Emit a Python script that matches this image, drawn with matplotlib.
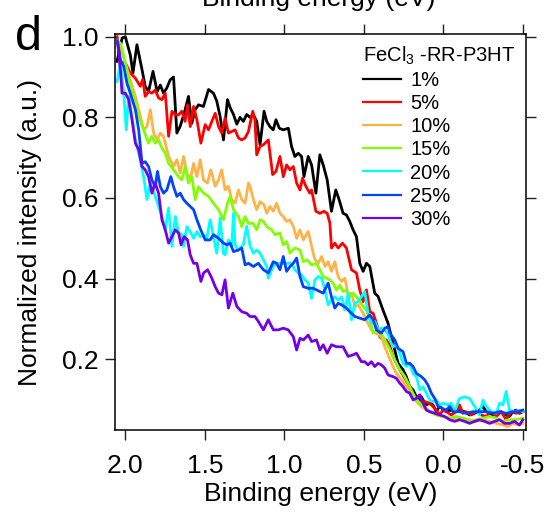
import numpy as np
import matplotlib
matplotlib.use("Agg")
import matplotlib.pyplot as plt
from matplotlib.ticker import FixedLocator

plt.rcParams['font.family'] = ['Liberation Sans', 'DejaVu Sans']
plt.rcParams['mathtext.fontset'] = 'custom'
plt.rcParams['mathtext.rm'] = 'Liberation Sans'
plt.rcParams['mathtext.it'] = 'Liberation Sans:italic'

# valence band spectra, (binding energy eV, normalized intensity)
p1 = [(2.052, 0.939), (2.02, 0.997), (2.0, 1.0), (1.969, 0.955), (1.952, 0.91), (1.927, 0.98),
      (1.895, 0.918), (1.875, 0.877), (1.854, 0.864), (1.826, 0.914), (1.80, 0.864), (1.78, 0.88),
      (1.76, 0.86), (1.739, 0.873), (1.718, 0.893), (1.697, 0.90), (1.676, 0.761), (1.655, 0.778),
      (1.63, 0.81), (1.603, 0.852), (1.582, 0.785), (1.561, 0.819), (1.54, 0.831), (1.509, 0.827),
      (1.477, 0.869), (1.446, 0.86), (1.425, 0.84), (1.404, 0.802), (1.383, 0.744), (1.358, 0.844),
      (1.341, 0.824), (1.32, 0.807), (1.299, 0.783), (1.279, 0.80), (1.258, 0.79), (1.237, 0.807),
      (1.216, 0.80), (1.195, 0.806), (1.174, 0.79), (1.153, 0.732), (1.128, 0.815), (1.111, 0.79),
      (1.091, 0.777), (1.07, 0.769), (1.053, 0.794), (1.032, 0.773), (1.007, 0.769), (0.975, 0.773),
      (0.955, 0.728), (0.934, 0.703), (0.913, 0.711), (0.892, 0.703), (0.877, 0.653), (0.85, 0.703),
      (0.829, 0.682), (0.802, 0.612), (0.777, 0.707), (0.756, 0.682), (0.731, 0.645), (0.704, 0.567),
      (0.677, 0.62), (0.656, 0.596), (0.631, 0.562), (0.61, 0.558), (0.589, 0.542), (0.568, 0.521),
      (0.547, 0.504), (0.526, 0.438), (0.505, 0.418), (0.484, 0.438), (0.463, 0.43), (0.432, 0.364),
      (0.411, 0.356), (0.38, 0.322), (0.348, 0.289), (0.317, 0.24), (0.285, 0.19), (0.254, 0.174),
      (0.233, 0.157), (0.212, 0.132), (0.191, 0.124), (0.17, 0.107), (0.154, 0.095), (0.139, 0.107),
      (0.128, 0.099), (0.107, 0.087), (0.087, 0.091), (0.066, 0.087), (0.045, 0.07), (0.024, 0.083),
      (0.003, 0.076), (-0.018, 0.07), (-0.039, 0.074), (-0.07, 0.07), (-0.101, 0.074), (-0.133, 0.07),
      (-0.164, 0.062), (-0.196, 0.066), (-0.227, 0.074), (-0.248, 0.083), (-0.269, 0.07), (-0.29, 0.066),
      (-0.311, 0.062), (-0.332, 0.066), (-0.363, 0.07), (-0.394, 0.062), (-0.415, 0.058), (-0.436, 0.07),
      (-0.457, 0.074), (-0.478, 0.066), (-0.499, 0.07)]

p5 = [(2.052, 1.0), (2.031, 0.935), (2.0, 0.935), (1.969, 0.91), (1.937, 0.897), (1.906, 0.877),
      (1.891, 0.894), (1.875, 0.852), (1.854, 0.864), (1.833, 0.86), (1.812, 0.868), (1.791, 0.848),
      (1.77, 0.844), (1.749, 0.86), (1.728, 0.753), (1.707, 0.815), (1.686, 0.806), (1.666, 0.806),
      (1.645, 0.815), (1.624, 0.79), (1.609, 0.831), (1.592, 0.777), (1.571, 0.827), (1.55, 0.794),
      (1.525, 0.736), (1.498, 0.782), (1.477, 0.769), (1.456, 0.79), (1.435, 0.81), (1.414, 0.777),
      (1.394, 0.761), (1.373, 0.798), (1.352, 0.761), (1.331, 0.765), (1.31, 0.769), (1.289, 0.749),
      (1.268, 0.744), (1.247, 0.749), (1.226, 0.765), (1.199, 0.815), (1.185, 0.794), (1.174, 0.707),
      (1.153, 0.728), (1.132, 0.732), (1.101, 0.744), (1.074, 0.658), (1.053, 0.666), (1.028, 0.703),
      (1.007, 0.653), (0.986, 0.682), (0.965, 0.67), (0.944, 0.678), (0.923, 0.637), (0.902, 0.62),
      (0.886, 0.649), (0.865, 0.629), (0.84, 0.612), (0.829, 0.62), (0.802, 0.567), (0.777, 0.562),
      (0.752, 0.567), (0.731, 0.562), (0.714, 0.538), (0.704, 0.476), (0.683, 0.488), (0.662, 0.476),
      (0.635, 0.488), (0.61, 0.476), (0.578, 0.422), (0.547, 0.414), (0.526, 0.372), (0.505, 0.343),
      (0.484, 0.372), (0.463, 0.318), (0.442, 0.314), (0.421, 0.289), (0.4, 0.256), (0.38, 0.248),
      (0.359, 0.248), (0.338, 0.235), (0.317, 0.207), (0.296, 0.19), (0.275, 0.174), (0.243, 0.153),
      (0.212, 0.132), (0.181, 0.103), (0.149, 0.091), (0.118, 0.095), (0.087, 0.091), (0.066, 0.083),
      (0.045, 0.074), (0.024, 0.062), (0.003, 0.074), (-0.018, 0.07), (-0.049, 0.062), (-0.081, 0.07),
      (-0.101, 0.087), (-0.122, 0.066), (-0.143, 0.07), (-0.175, 0.062), (-0.206, 0.07), (-0.237, 0.062),
      (-0.269, 0.058), (-0.3, 0.07), (-0.332, 0.058), (-0.363, 0.07), (-0.394, 0.05), (-0.426, 0.07),
      (-0.457, 0.066), (-0.488, 0.07), (-0.499, 0.07)]

p10 = [(2.05, 0.99), (2.031, 0.976), (2.0, 0.935), (1.969, 0.893), (1.937, 0.852), (1.916, 0.819),
       (1.885, 0.769), (1.864, 0.777), (1.843, 0.819), (1.822, 0.761), (1.801, 0.744), (1.78, 0.761),
       (1.76, 0.753), (1.728, 0.703), (1.697, 0.678), (1.676, 0.695), (1.655, 0.662), (1.634, 0.703),
       (1.613, 0.662), (1.592, 0.645), (1.571, 0.686), (1.55, 0.653), (1.529, 0.695), (1.509, 0.645),
       (1.484, 0.637), (1.463, 0.67), (1.435, 0.629), (1.414, 0.645), (1.394, 0.67), (1.373, 0.62),
       (1.352, 0.629), (1.331, 0.596), (1.31, 0.587), (1.289, 0.62), (1.268, 0.596), (1.247, 0.587),
       (1.226, 0.637), (1.216, 0.629), (1.195, 0.596), (1.174, 0.571), (1.153, 0.591), (1.128, 0.583),
       (1.111, 0.562), (1.091, 0.579), (1.07, 0.567), (1.049, 0.587), (1.028, 0.562), (1.007, 0.554),
       (0.986, 0.542), (0.965, 0.546), (0.944, 0.53), (0.923, 0.5), (0.902, 0.521), (0.881, 0.496),
       (0.85, 0.517), (0.829, 0.48), (0.808, 0.447), (0.787, 0.438), (0.766, 0.455), (0.745, 0.43),
       (0.725, 0.442), (0.704, 0.418), (0.683, 0.442), (0.662, 0.405), (0.641, 0.393), (0.62, 0.401),
       (0.599, 0.36), (0.578, 0.364), (0.557, 0.331), (0.536, 0.335), (0.505, 0.314), (0.474, 0.289),
       (0.453, 0.273), (0.421, 0.264), (0.39, 0.256), (0.369, 0.231), (0.348, 0.211), (0.317, 0.182),
       (0.296, 0.165), (0.264, 0.149), (0.233, 0.132), (0.202, 0.116), (0.17, 0.095), (0.139, 0.083),
       (0.107, 0.074), (0.076, 0.07), (0.045, 0.062), (0.003, 0.058), (-0.039, 0.054), (-0.081, 0.05),
       (-0.122, 0.054), (-0.164, 0.05), (-0.206, 0.046), (-0.248, 0.05), (-0.29, 0.046), (-0.332, 0.041),
       (-0.374, 0.037), (-0.405, 0.033), (-0.436, 0.041), (-0.467, 0.037), (-0.499, 0.041)]

p15 = [(2.05, 0.99), (2.031, 0.984), (2.01, 0.951), (1.979, 0.893), (1.948, 0.852), (1.916, 0.802),
       (1.885, 0.769), (1.854, 0.736), (1.833, 0.753), (1.812, 0.736), (1.791, 0.744), (1.77, 0.724),
       (1.749, 0.711), (1.728, 0.686), (1.697, 0.67), (1.666, 0.653), (1.645, 0.645), (1.624, 0.678),
       (1.603, 0.637), (1.582, 0.653), (1.561, 0.596), (1.54, 0.628), (1.509, 0.612), (1.477, 0.604),
       (1.446, 0.587), (1.414, 0.571), (1.383, 0.546), (1.358, 0.587), (1.341, 0.604), (1.32, 0.571),
       (1.289, 0.554), (1.268, 0.529), (1.247, 0.554), (1.226, 0.537), (1.195, 0.537), (1.174, 0.521),
       (1.153, 0.546), (1.132, 0.542), (1.111, 0.529), (1.08, 0.521), (1.059, 0.509), (1.028, 0.513),
       (1.007, 0.484), (0.986, 0.492), (0.965, 0.463), (0.934, 0.476), (0.902, 0.471), (0.881, 0.442),
       (0.857, 0.447), (0.829, 0.434), (0.798, 0.438), (0.777, 0.422), (0.756, 0.405), (0.735, 0.401),
       (0.714, 0.397), (0.693, 0.388), (0.672, 0.372), (0.652, 0.384), (0.631, 0.368), (0.61, 0.372),
       (0.589, 0.355), (0.568, 0.364), (0.547, 0.355), (0.526, 0.343), (0.505, 0.331), (0.484, 0.322),
       (0.463, 0.298), (0.442, 0.265), (0.421, 0.269), (0.4, 0.273), (0.38, 0.256), (0.359, 0.24),
       (0.338, 0.225), (0.306, 0.198), (0.275, 0.174), (0.243, 0.157), (0.212, 0.132), (0.181, 0.107),
       (0.149, 0.091), (0.118, 0.083), (0.087, 0.07), (0.045, 0.062), (0.003, 0.058), (-0.039, 0.054),
       (-0.081, 0.058), (-0.122, 0.054), (-0.164, 0.046), (-0.206, 0.05), (-0.248, 0.054), (-0.29, 0.058),
       (-0.332, 0.054), (-0.374, 0.046), (-0.415, 0.05), (-0.457, 0.05), (-0.499, 0.054)]

p20 = [(2.052, 0.889), (2.031, 0.935), (2.01, 0.86), (1.994, 0.769), (1.979, 0.852), (1.958, 0.802),
       (1.937, 0.744), (1.916, 0.711), (1.885, 0.653), (1.864, 0.596), (1.843, 0.637), (1.812, 0.604),
       (1.791, 0.579), (1.77, 0.554), (1.749, 0.521), (1.728, 0.575), (1.707, 0.48), (1.686, 0.554),
       (1.665, 0.513), (1.644, 0.509), (1.634, 0.48), (1.613, 0.529), (1.592, 0.517), (1.571, 0.50),
       (1.55, 0.517), (1.529, 0.504), (1.508, 0.509), (1.488, 0.5), (1.467, 0.546), (1.446, 0.504),
       (1.425, 0.463), (1.404, 0.55), (1.383, 0.463), (1.373, 0.459), (1.352, 0.496), (1.331, 0.48),
       (1.32, 0.562), (1.31, 0.484), (1.289, 0.471), (1.258, 0.484), (1.237, 0.53), (1.216, 0.482),
       (1.195, 0.463), (1.174, 0.471), (1.153, 0.463), (1.132, 0.447), (1.111, 0.43), (1.101, 0.401),
       (1.08, 0.422), (1.059, 0.438), (1.028, 0.438), (1.007, 0.438), (0.986, 0.438), (0.955, 0.438),
       (0.934, 0.422), (0.913, 0.414), (0.892, 0.409), (0.871, 0.397), (0.85, 0.389), (0.829, 0.351),
       (0.808, 0.397), (0.787, 0.405), (0.766, 0.401), (0.745, 0.372), (0.725, 0.335), (0.704, 0.347),
       (0.683, 0.355), (0.662, 0.347), (0.641, 0.355), (0.62, 0.322), (0.599, 0.364), (0.578, 0.298),
       (0.557, 0.339), (0.536, 0.343), (0.516, 0.355), (0.495, 0.368), (0.474, 0.314), (0.453, 0.289),
       (0.432, 0.294), (0.411, 0.273), (0.39, 0.277), (0.369, 0.273), (0.348, 0.262), (0.3375, 0.248),
       (0.317, 0.231), (0.296, 0.236), (0.275, 0.215), (0.254, 0.19), (0.233, 0.182), (0.212, 0.19),
       (0.191, 0.165), (0.17, 0.157), (0.149, 0.124), (0.128, 0.132), (0.107, 0.116), (0.087, 0.099),
       (0.066, 0.095), (0.045, 0.099), (0.024, 0.087), (0.003, 0.091), (-0.029, 0.087), (-0.049, 0.091),
       (-0.07, 0.07), (-0.101, 0.103), (-0.133, 0.107), (-0.164, 0.103), (-0.196, 0.083), (-0.227, 0.062),
       (-0.248, 0.099), (-0.269, 0.083), (-0.3, 0.07), (-0.332, 0.066), (-0.353, 0.091), (-0.374, 0.087),
       (-0.394, 0.12), (-0.415, 0.074), (-0.447, 0.07), (-0.478, 0.074), (-0.499, 0.07)]

p25 = [(2.05, 0.99), (2.031, 0.943), (2.01, 0.926), (1.99, 0.885), (1.969, 0.86), (1.937, 0.819),
       (1.916, 0.769), (1.895, 0.686), (1.875, 0.69), (1.854, 0.678), (1.833, 0.645), (1.812, 0.628),
       (1.798, 0.666), (1.78, 0.628), (1.76, 0.612), (1.739, 0.62), (1.714, 0.653), (1.697, 0.628),
       (1.676, 0.604), (1.655, 0.612), (1.634, 0.596), (1.613, 0.587), (1.592, 0.579), (1.571, 0.571),
       (1.55, 0.546), (1.529, 0.524), (1.498, 0.496), (1.467, 0.496), (1.446, 0.509), (1.414, 0.5),
       (1.383, 0.488), (1.362, 0.484), (1.341, 0.488), (1.32, 0.467), (1.289, 0.471), (1.268, 0.476),
       (1.247, 0.434), (1.226, 0.438), (1.195, 0.43), (1.164, 0.438), (1.132, 0.422), (1.101, 0.414),
       (1.07, 0.442), (1.049, 0.438), (1.028, 0.422), (1.007, 0.455), (0.986, 0.418), (0.965, 0.43),
       (0.944, 0.438), (0.923, 0.451), (0.902, 0.405), (0.881, 0.38), (0.85, 0.376), (0.819, 0.376),
       (0.798, 0.372), (0.777, 0.368), (0.756, 0.364), (0.725, 0.389), (0.704, 0.355), (0.683, 0.327),
       (0.662, 0.339), (0.641, 0.335), (0.61, 0.327), (0.589, 0.318), (0.557, 0.306), (0.526, 0.302),
       (0.495, 0.298), (0.463, 0.31), (0.442, 0.298), (0.421, 0.273), (0.39, 0.265), (0.369, 0.277),
       (0.348, 0.281), (0.3375, 0.265), (0.306, 0.248), (0.285, 0.227), (0.254, 0.219), (0.233, 0.19),
       (0.212, 0.19), (0.191, 0.182), (0.17, 0.165), (0.139, 0.157), (0.118, 0.149), (0.097, 0.136),
       (0.076, 0.116), (0.055, 0.103), (0.034, 0.083), (0.013, 0.079), (-0.018, 0.074), (-0.039, 0.083),
       (-0.06, 0.07), (-0.101, 0.07), (-0.143, 0.066), (-0.185, 0.07), (-0.227, 0.07), (-0.269, 0.07),
       (-0.311, 0.066), (-0.353, 0.07), (-0.394, 0.066), (-0.436, 0.07), (-0.467, 0.07), (-0.499, 0.074)]

p30 = [(2.048, 0.984), (2.031, 0.918), (2.021, 0.86), (2.0, 0.86), (1.979, 0.844), (1.958, 0.794),
       (1.937, 0.736), (1.916, 0.72), (1.895, 0.678), (1.875, 0.67), (1.854, 0.653), (1.833, 0.612),
       (1.812, 0.637), (1.791, 0.612), (1.77, 0.546), (1.749, 0.521), (1.728, 0.488), (1.707, 0.504),
       (1.686, 0.521), (1.665, 0.513), (1.65, 0.484), (1.63, 0.504), (1.609, 0.496), (1.592, 0.459),
       (1.571, 0.438), (1.55, 0.438), (1.525, 0.393), (1.508, 0.414), (1.483, 0.422), (1.456, 0.401),
       (1.435, 0.38), (1.414, 0.364), (1.393, 0.36), (1.373, 0.397), (1.352, 0.327), (1.324, 0.364),
       (1.299, 0.331), (1.268, 0.318), (1.237, 0.314), (1.216, 0.306), (1.185, 0.306), (1.164, 0.294),
       (1.132, 0.273), (1.101, 0.298), (1.07, 0.273), (1.038, 0.273), (1.007, 0.277), (0.976, 0.273),
       (0.944, 0.256), (0.923, 0.223), (0.902, 0.252), (0.881, 0.248), (0.85, 0.26), (0.829, 0.244),
       (0.798, 0.248), (0.777, 0.223), (0.756, 0.236), (0.731, 0.215), (0.704, 0.236), (0.672, 0.231),
       (0.631, 0.231), (0.599, 0.207), (0.568, 0.211), (0.547, 0.215), (0.516, 0.194), (0.495, 0.194),
       (0.474, 0.186), (0.453, 0.194), (0.432, 0.182), (0.411, 0.19), (0.39, 0.186), (0.369, 0.178),
       (0.348, 0.161), (0.317, 0.157), (0.296, 0.153), (0.275, 0.141), (0.254, 0.132), (0.233, 0.12),
       (0.212, 0.116), (0.191, 0.099), (0.17, 0.103), (0.149, 0.112), (0.128, 0.091), (0.107, 0.074),
       (0.087, 0.07), (0.055, 0.066), (0.024, 0.062), (-0.008, 0.058), (-0.039, 0.05), (-0.07, 0.046),
       (-0.101, 0.05), (-0.133, 0.046), (-0.164, 0.041), (-0.196, 0.046), (-0.227, 0.05), (-0.258, 0.046),
       (-0.29, 0.041), (-0.321, 0.046), (-0.353, 0.05), (-0.384, 0.041), (-0.415, 0.041), (-0.447, 0.046),
       (-0.478, 0.037), (-0.499, 0.05)]

labels = ['1%', '5%', '10%', '15%', '20%', '25%', '30%']
colors = ['#000000', '#ff0000', '#ffb347', '#80ff00', '#00ffff', '#0044ff', '#7300e6']
spectra = [p1, p5, p10, p15, p20, p25, p30]

fig = plt.figure(figsize=(5.5, 5.12), dpi=100)
ax = fig.add_axes([115 / 550, 1 - 430 / 512, 411 / 550, 396 / 512])

for pts, lab, col in zip(spectra, labels, colors):
    e, i = np.array(pts).T
    ax.plot(e, i, color=col, lw=2.0, label=lab)

ax.set_xlim(2.065, -0.519)
ax.set_ylim(0.0246, 1.0067)
ax.xaxis.set_major_locator(FixedLocator([2.0, 1.5, 1.0, 0.5, 0.0, -0.5]))
ax.yaxis.set_major_locator(FixedLocator([0.2, 0.4, 0.6, 0.8, 1.0]))
ax.set_xticklabels(['2.0', '1.5', '1.0', '0.5', '0.0', '-0.5'])
ax.set_yticklabels(['0.2', '0.4', '0.6', '0.8', '1.0'])
ax.tick_params(direction='out', length=7, width=1.0, labelsize=19, top=True, right=True,
               color='#222222')
ax.tick_params(axis='x', pad=10)
ax.tick_params(axis='y', pad=5)
for s in ax.spines.values():
    s.set_linewidth(1.1)

ax.set_xlabel('Binding energy (eV)', fontsize=19, labelpad=3)
ax.set_ylabel('Normalized intensity (a.u.)', fontsize=19, labelpad=14)

leg = ax.legend(loc='upper left', bbox_to_anchor=(0.603, 0.972), frameon=False, fontsize=14.5,
                title='FeCl$_{\\mathrm{3}}$ -RR-P3HT', title_fontsize=14.5, alignment='left',
                handlelength=1.9, handletextpad=0.45, labelspacing=0.2, borderpad=0,
                borderaxespad=0)
for h in leg.get_lines():
    h.set_linewidth(1.6)

fig.text(0.027, 1 - 50 / 512, 'd', fontsize=35, va='baseline')
# axis title of the panel above, cut at the top edge
fig.text(0.58, 1 - 6 / 512, 'Binding energy (eV)', fontsize=19, ha='center', va='baseline')

fig.savefig('out.png', dpi=100)
